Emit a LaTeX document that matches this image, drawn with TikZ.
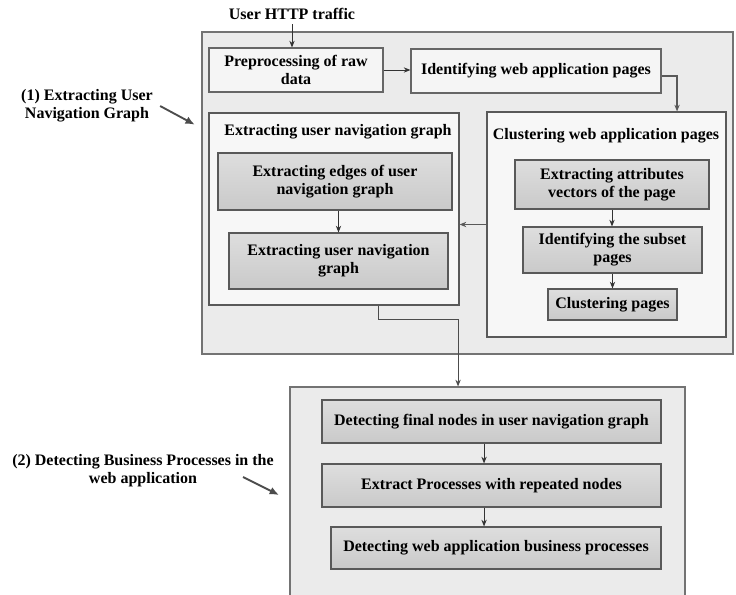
\documentclass[tikz,border=0pt]{standalone}
\usepackage{fontspec}
\setmainfont{Liberation Serif}
\usetikzlibrary{arrows, arrows.meta, positioning, shadows}
\tikzset{>={Stealth[length=5pt, width=4pt]}}
% size of a box given in pixels of the page
\tikzset{wh/.style 2 args={minimum width=#1*0.75pt, minimum height=#2*0.75pt}}

\begin{document}
\begin{tikzpicture}[x=0.75pt, y=-0.75pt, font=\fontsize{12}{13.5}\selectfont\bfseries,
    stage/.style={draw=black!55, fill=black!8, line width=0.9pt, inner sep=0pt},
    panel/.style={draw=black!65, fill=black!3, line width=0.9pt, inner sep=0pt},
    plain/.style={draw=black!60, fill=black!4, line width=0.9pt, align=center, inner sep=0pt},
    task/.style={draw=black!65, top color=black!13, bottom color=black!21, line width=0.9pt,
        align=center, inner sep=0pt, drop shadow={shadow xshift=0.8pt, shadow yshift=-0.8pt, opacity=0.25}},
    link/.style={->, draw=black!80, line width=0.7pt},
    pointer/.style={-{Latex[length=7pt, width=6pt]}, draw=black!70, line width=1.4pt}]
    \useasboundingbox (0,0) rectangle (736,594);
    \fill[white] (0,0) rectangle (736,594);

    % the two stages
    \node[stage, wh={531}{322}] (stage1) at (467.5,193) {};
    \node[stage, wh={395}{232}] (stage2) at (487.5,503) {};

    \node (traffic) at (292,14) {User HTTP traffic};
    \node[plain, wh={174}{44}] (pre) at (296,70) {Preprocessing of raw\\data};
    \node[plain, wh={250}{44}] (ident) at (536,71) {Identifying web application pages};

    \node[panel, wh={239}{225}] (clus) at (606.5,224.5) {};
    \node (clustitle) at (606,136) {Clustering web application pages};
    \node[task, wh={194}{49}] (attr) at (612,184.5) {Extracting attributes\\vectors of the page};
    \node[task, wh={179}{46}] (subset) at (612.5,250) {Identifying the subset\\pages};
    \node[task, wh={129}{31}] (cpages) at (612.5,304.5) {Clustering pages};

    \node[panel, wh={250}{192}] (nav) at (334,209) {};
    \node (navtitle) at (338,132) {Extracting user navigation graph};
    \node[task, wh={234}{57}] (edges) at (335,181.5) {Extracting edges of user\\navigation graph};
    \node[task, wh={219}{56}] (navgraph) at (338.5,261) {Extracting user navigation\\graph};

    \node[task, wh={339}{43}] (final) at (491.5,421.5) {Detecting final nodes in user navigation graph};
    \node[task, wh={339}{43}] (repeated) at (491.5,485.5) {Extract Processes with repeated nodes};
    \node[task, wh={330}{42}] (business) at (496,548) {Detecting web application business processes};

    \node[align=center] (lab1) at (87,106) {(1) Extracting User\\Navigation Graph};
    \node[align=center] (lab2) at (143,471) {(2) Detecting Business Processes in the\\web application};
    \coordinate (p2s) at (243,477);
    \coordinate (p2e) at (279,495);

    \draw[link] (traffic) -- (traffic |- pre.north);
    \draw[link] (pre.east) -- (pre.east -| ident.west);
    \draw[link, draw=black!65, line width=1pt] ([yshift=-3.75pt]ident.east) -| ([xshift=52.9pt]clus.north);
    \draw[link, draw=black!65, line width=1pt] (clus.west) -- (clus.west -| nav.east);
    \draw[link] (navgraph.north |- edges.south) -- (navgraph.north);
    \draw[link] (attr.south) -- (attr.south |- subset.north);
    \draw[link] (subset.south) -- (subset.south |- cpages.north);
    \draw[link, draw=black!70] ([xshift=33pt]nav.south) |- ([xshift=-22.1pt,yshift=50.25pt]stage2.north)
        -- ([xshift=-22.1pt]stage2.north);
    \draw[link] ([xshift=-5.6pt]final.south) -- ([xshift=-5.6pt]repeated.north);
    \draw[link] ([xshift=-5.6pt]repeated.south) -- ([xshift=-5.6pt]repeated.south |- business.north);

    \draw[pointer] ([xshift=2pt]lab1.east) -- ++(26pt,-14pt);
    \draw[pointer] (p2s) -- (p2e);
\end{tikzpicture}
\end{document}
